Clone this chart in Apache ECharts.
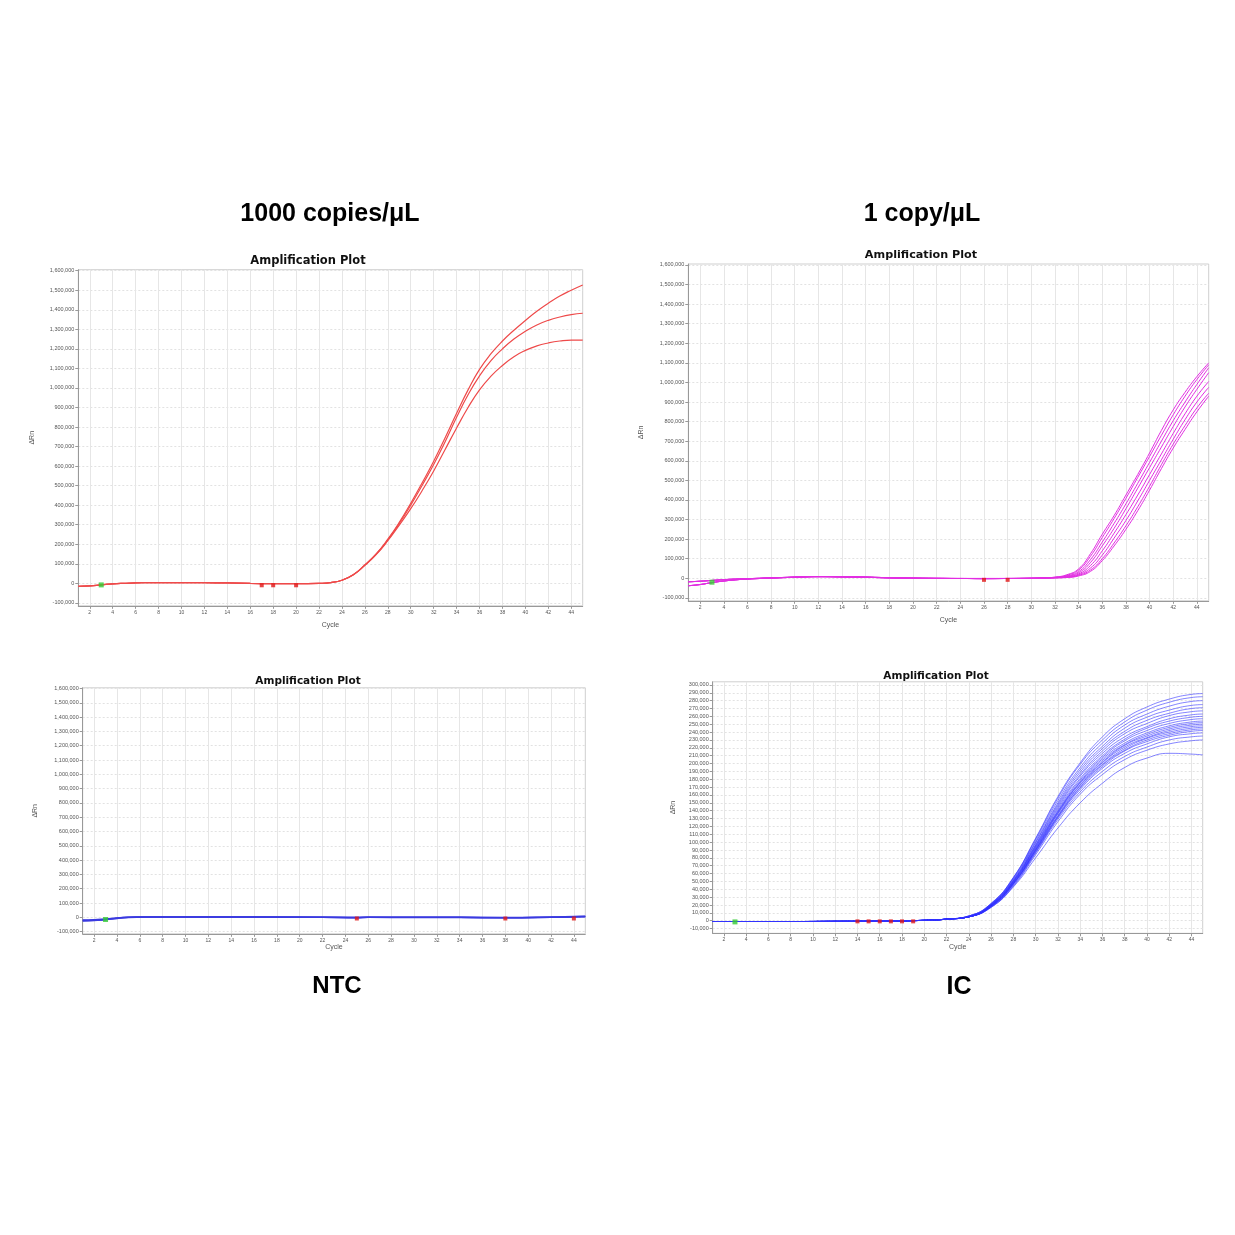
<!DOCTYPE html>
<html><head><meta charset="utf-8">
<script src="https://cdn.jsdelivr.net/npm/echarts@6/dist/echarts.min.js"></script>
<style>html,body{margin:0;padding:0;background:#fff}#c{width:1235px;height:1235px}</style>
</head><body><div id="c"></div>
<script>
// ---------- tick labels ----------
const cycleTicks = [2,4,6,8,10,12,14,16,18,20,22,24,26,28,30,32,34,36,38,40,42,44];
const bigTicks = [-100000,0,100000,200000,300000,400000,500000,600000,700000,800000,900000,1000000,1100000,1200000,1300000,1400000,1500000,1600000];
const icTicks = [-10000,0,10000,20000,30000,40000,50000,60000,70000,80000,90000,100000,110000,120000,130000,140000,150000,160000,170000,180000,190000,200000,210000,220000,230000,240000,250000,260000,270000,280000,290000,300000];

// ---------- panel 1 : 1000 copies/uL ----------
const p1Cycles = [1,2,3,4,5,6,8,10,12,14,16,18,20,22,23,24,25,26,27,28,29,30,31,32,33,34,35,36,37,38,39,40,41,42,43,44,45];
const p1Base = [-15000,-13000,-8000,-3000,0,2000,4000,4000,3000,2000,0,-2000,-2000,0];
const p1RiseA = [4000,16000,45000,95000,152000,226000,312000,410000,515000,625000,745000,870000,990000,1095000,1175000,1240000,1295000,1345000,1392000,1433000,1470000,1500000,1527000];
const p1RiseB = [4000,16000,44000,93000,150000,222000,306000,400000,502000,608000,725000,850000,965000,1062000,1140000,1200000,1250000,1290000,1322000,1346000,1363000,1375000,1382000];
const p1RiseC = [4000,16000,44000,92000,148000,218000,298000,382000,475000,575000,685000,795000,900000,990000,1060000,1115000,1160000,1192000,1215000,1230000,1240000,1245000,1245000];
const p1Green = [[3,-8000]];
const p1Red = [[17,-10000],[18,-10000],[20,-10000]];

// ---------- panel 2 : 1 copy/uL ----------
const p2Cycles = [1,2,3,4,5,6,8,10,12,14,16,18,20,22,24,26,28,30,31,32,33,34,35,36,37,38,39,40,41,42,43,44,45];
const p2BaseA = [-18000,-15000,-11000,-7000,-4000,-2000,2000,6000,9000,8000,6000,3000,1000,0,-1000,-1000,-1000,0];
const p2BaseB = [-38000,-32000,-22000,-14000,-8000,-4000,1000,5000,8000,7000,5000,2000,0,-1000,-1000,-2000,-1000,0];
const p2Rise1 = [2000,6000,18000,48000,125000,225000,320000,425000,530000,640000,755000,860000,950000,1030000,1100000];
const p2Rise2 = [2000,5000,15000,42000,112000,208000,305000,408000,515000,622000,730000,835000,930000,1015000,1090000];
const p2Rise3 = [2000,4000,12000,34000,95000,185000,280000,380000,485000,592000,700000,805000,900000,990000,1075000];
const p2Rise4 = [1000,4000,10000,28000,80000,165000,255000,355000,460000,565000,670000,775000,875000,965000,1050000];
const p2Rise5 = [1000,3000,8000,22000,65000,140000,230000,325000,425000,530000,635000,740000,840000,930000,1005000];
const p2Rise6 = [1000,3000,6000,18000,52000,118000,205000,295000,395000,500000,605000,710000,810000,900000,975000];
const p2Rise7 = [1000,2000,5000,15000,42000,100000,180000,268000,365000,470000,580000,685000,780000,870000,945000];
const p2Rise8 = [1000,2000,4000,12000,35000,90000,165000,250000,345000,450000,560000,665000,760000,850000,930000];
const p2Green = [[3,-20000]];
const p2Red = [[26,-8000],[28,-8000]];

// ---------- panel 3 : NTC ----------
const p3Cycles = [1,2,3,4,5,6,8,10,14,18,22,25,26,30,34,38,42,44,45];
const p3Line1 = [-22000,-20000,-15000,-6000,0,2000,3000,3000,2000,2000,1000,-3000,0,0,0,-2000,1000,4000,6000];
const p3Line2 = [-18000,-16000,-12000,-4000,1000,3000,3000,2000,2000,1000,0,-2000,0,-1000,-1000,-3000,0,3000,4000];
const p3Line3 = [-25000,-22000,-17000,-8000,-1000,1000,2000,3000,3000,2000,1000,0,0,1000,0,-1000,2000,6000,8000];
const p3Green = [[3,-15000]];
const p3Red = [[25,-8000],[38,-8000],[44,-8000]];

// ---------- panel 4 : IC ----------
const p4Cycles = [1,3,5,8,12,16,20,22,24,26,28,30,32,34,36,38,40,42,44,45];
const p4Base = [-1000,-1000,-1000,-1000,-800,-500,500,2000];
const p4Rises = [
  [6000,22000,55000,105000,158000,201000,234000,257000,272000,282000,288000,289000],
  [6000,22000,55000,104000,156000,199000,230000,253000,268000,278000,284000,285000],
  [6000,21000,54000,102000,153000,195000,226000,249000,263000,273000,279000,280000],
  [6000,21000,53000,100000,150000,192000,222000,245000,259000,268000,274000,275000],
  [5000,21000,52000,99000,148000,189000,219000,241000,255000,264000,270000,271000],
  [5000,20000,51000,97000,146000,186000,216000,238000,251000,261000,266000,267000],
  [5000,20000,51000,96000,144000,184000,213000,234000,247000,257000,262000,263000],
  [5000,20000,50000,95000,142000,181000,210000,231000,245000,254000,259000,260000],
  [5000,20000,50000,94000,140000,179000,208000,229000,242000,251000,256000,257000],
  [5000,19000,49000,93000,139000,177000,206000,226000,239000,248000,253000,254000],
  [5000,19000,49000,92000,138000,176000,204000,224000,237000,246000,251000,252000],
  [5000,19000,48000,91000,137000,175000,202000,223000,235000,244000,249000,250000],
  [5000,19000,48000,90000,136000,173000,201000,221000,233000,242000,247000,248000],
  [5000,19000,47000,90000,134000,172000,199000,219000,232000,240000,245000,246000],
  [5000,18000,47000,89000,133000,170000,198000,217000,230000,238000,243000,244000],
  [5000,18000,47000,88000,132000,169000,196000,216000,228000,236000,241000,242000],
  [5000,18000,46000,87000,131000,167000,194000,213000,225000,234000,238000,239000],
  [5000,18000,45000,86000,129000,164000,190000,209000,221000,230000,234000,235000],
  [5000,17000,44000,84000,126000,161000,186000,205000,217000,225000,229000,230000],
  [5000,17000,43000,80000,118000,150000,175000,195000,207000,213000,212000,211000]
];
const p4Green = [[3,-1500]];
const p4Red = [[14,-800],[15,-800],[16,-800],[17,-800],[18,-800],[19,-800]];

// ---------- build ----------
function zip(xs, ys){ return xs.map((x,i)=>[x, ys[i]]); }
const fmt = v => Number(v).toLocaleString('en-US');

const grids = [
  {left:78.3, top:269.7, width:504.4, height:336.1},
  {left:688.3, top:264.0, width:520.4, height:336.8},
  {left:82.7, top:687.8, width:502.6, height:246.0},
  {left:712.7, top:681.8, width:490.0, height:251.5}
].map(g => Object.assign({show:true, borderColor:'#cfcfcf', borderWidth:1, backgroundColor:'#fff'}, g));

const yCfg = [
  {min:-115000, max:1605000, ticks:bigTicks, gap:43},
  {min:-115000, max:1605000, ticks:bigTicks, gap:44},
  {min:-115000, max:1605000, ticks:bigTicks, gap:44},
  {min:-16000, max:304000, ticks:icTicks, gap:36}
];
const xGap = [16, 16, 10, 10];

const xAxes = grids.map((g,i)=>({
  type:'value', gridIndex:i, min:1, max:45,
  axisLine:{show:true, onZero:false, lineStyle:{color:'#999', width:1}},
  axisTick:{show:true, customValues:cycleTicks, length:3, lineStyle:{color:'#999'}},
  axisLabel:{show:true, customValues:cycleTicks, fontSize:5, color:'#555', margin:4},
  splitLine:{show:true, lineStyle:{color:'#e6e6e6', width:1}},
  name:'Cycle', nameLocation:'middle', nameGap:xGap[i],
  nameTextStyle:{fontSize:7, color:'#555'}
}));
const yAxes = yCfg.map((c,i)=>({
  type:'value', gridIndex:i, min:c.min, max:c.max,
  axisLine:{show:true, onZero:false, lineStyle:{color:'#999', width:1}},
  axisTick:{show:true, customValues:c.ticks, length:3, lineStyle:{color:'#999'}},
  axisLabel:{show:true, customValues:c.ticks, formatter:fmt, fontSize:5.5, color:'#555', margin:4},
  splitLine:{show:true, lineStyle:{color:'#e2e2e2', type:[2,2], width:1}},
  name:'ΔRn', nameLocation:'middle', nameRotate:90, nameGap:c.gap,
  nameTextStyle:{fontSize:7, color:'#555'}
}));

const series = [];
function addLine(i, data, color, width){
  series.push({type:'line', xAxisIndex:i, yAxisIndex:i, data, showSymbol:false, smooth:0.5,
    lineStyle:{color, width}, silent:true, animation:false, z:2});
}
function addMark(i, data, color, symbol, size){
  series.push({type:'scatter', xAxisIndex:i, yAxisIndex:i, data, symbol, symbolSize:size,
    itemStyle:{color}, silent:true, animation:false, z:5});
}
const red1 = '#ee4a4a';
addLine(0, zip(p1Cycles, p1Base.concat(p1RiseA)), red1, 1.2);
addLine(0, zip(p1Cycles, p1Base.concat(p1RiseB)), red1, 1.2);
addLine(0, zip(p1Cycles, p1Base.concat(p1RiseC)), red1, 1.2);
addMark(0, p1Green, '#33cc33', 'rect', 5);
addMark(0, p1Red, '#e01818', 'rect', 4);

const mag = '#e22de2';
[p2Rise1,p2Rise2,p2Rise3,p2Rise4].forEach(r=>addLine(1, zip(p2Cycles, p2BaseA.concat(r)), mag, 1));
[p2Rise5,p2Rise6,p2Rise7,p2Rise8].forEach(r=>addLine(1, zip(p2Cycles, p2BaseB.concat(r)), mag, 1));
addMark(1, p2Green, '#33cc33', 'rect', 5);
addMark(1, p2Red, '#e01818', 'rect', 4);

const blue3 = '#3a3ae0';
[p3Line1,p3Line2,p3Line3].forEach(l=>addLine(2, zip(p3Cycles, l), blue3, 1.5));
addMark(2, p3Green, '#33cc33', 'rect', 5);
addMark(2, p3Red, '#e01818', 'rect', 4);

p4Rises.forEach(r=>addLine(3, zip(p4Cycles, p4Base.concat(r)), 'rgba(50,50,255,0.6)', 1));
addMark(3, p4Green, '#33cc33', 'rect', 5);
addMark(3, p4Red, '#e01818', 'rect', 4);

const big = {fontFamily:'Liberation Sans, Arial, sans-serif', fontWeight:'bold', fill:'#000', align:'center', verticalAlign:'middle'};
const sub = {fontFamily:'DejaVu Sans, Verdana, sans-serif', fontWeight:'bold', fill:'#111', align:'center', verticalAlign:'middle'};
function txt(x,y,text,base,size){ return {type:'text', x, y, silent:true, z:10, style:Object.assign({text, fontSize:size}, base)}; }

const chart = echarts.init(document.getElementById('c'), null, {renderer:'canvas'});
chart.setOption({
  backgroundColor:'#fff',
  animation:false,
  grid:grids, xAxis:xAxes, yAxis:yAxes, series,
  graphic:[
    txt(330, 214, '1000 copies/μL', big, 25),
    txt(922, 214, '1 copy/μL', big, 25),
    txt(337, 986, 'NTC', big, 24),
    txt(959, 987, 'IC', big, 25),
    txt(308, 261, 'Amplification Plot', sub, 11.5),
    txt(921, 255, 'Amplification Plot', sub, 11.2),
    txt(308, 681, 'Amplification Plot', sub, 10.5),
    txt(936, 676, 'Amplification Plot', sub, 10.5)
  ]
});
</script></body></html>
